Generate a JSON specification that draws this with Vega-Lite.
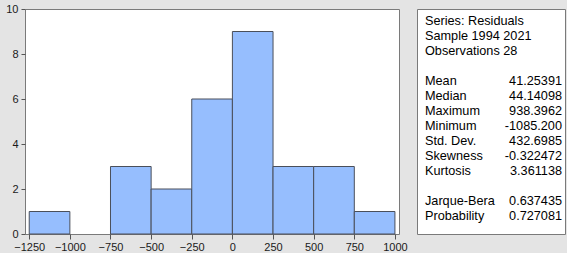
{
  "$schema": "https://vega.github.io/schema/vega-lite/v6.json",
  "background": "#e4e4e4",
  "padding": {"left": 5, "top": 2, "right": 2, "bottom": 0},
  "spacing": 18,
  "bounds": "flush",
  "config": {
    "font": "Liberation Sans",
    "view": {"fill": "white", "stroke": "#7a7a7a", "strokeWidth": 1},
    "axis": {"domain": false, "grid": false, "labelFont": "Liberation Sans", "labelFontSize": 11, "labelColor": "#1a1a1a", "tickColor": "#555555", "title": null}
  },
  "hconcat": [
    {
      "width": 374,
      "height": 225,
      "data": {"values": [
        {"bin_start": -1250, "bin_end": -1000, "count": 1},
        {"bin_start": -750, "bin_end": -500, "count": 3},
        {"bin_start": -500, "bin_end": -250, "count": 2},
        {"bin_start": -250, "bin_end": 0, "count": 6},
        {"bin_start": 0, "bin_end": 250, "count": 9},
        {"bin_start": 250, "bin_end": 500, "count": 3},
        {"bin_start": 500, "bin_end": 750, "count": 3},
        {"bin_start": 750, "bin_end": 1000, "count": 1}
      ]},
      "mark": {"type": "rect", "fill": "#96befe", "stroke": "#4a4f5a", "strokeWidth": 1},
      "encoding": {
        "x": {"field": "bin_start", "type": "quantitative",
              "scale": {"domain": [-1276, 1025], "nice": false, "zero": false},
              "axis": {"values": [-1250, -1000, -750, -500, -250, 0, 250, 500, 750, 1000], "format": "d", "tickSize": 5, "labelPadding": 2, "labelFlush": false}},
        "x2": {"field": "bin_end"},
        "y": {"field": "count", "type": "quantitative",
              "scale": {"domain": [0, 10], "nice": false},
              "axis": {"values": [0, 2, 4, 6, 8, 10], "tickSize": 4, "labelPadding": 3}},
        "y2": {"datum": 0}
      }
    },
    {
      "width": 148,
      "height": 225,
      "data": {"values": [
        {"line": 0, "label": "Series: Residuals", "value": ""},
        {"line": 1, "label": "Sample 1994 2021", "value": ""},
        {"line": 2, "label": "Observations 28", "value": ""},
        {"line": 4, "label": "Mean", "value": "41.25391"},
        {"line": 5, "label": "Median", "value": "44.14098"},
        {"line": 6, "label": "Maximum", "value": "938.3962"},
        {"line": 7, "label": "Minimum", "value": "-1085.200"},
        {"line": 8, "label": "Std. Dev.", "value": "432.6985"},
        {"line": 9, "label": "Skewness", "value": "-0.322472"},
        {"line": 10, "label": "Kurtosis", "value": "3.361138"},
        {"line": 12, "label": "Jarque-Bera", "value": "0.637435"},
        {"line": 13, "label": "Probability", "value": "0.727081"}
      ]},
      "encoding": {
        "y": {"field": "line", "type": "quantitative",
              "scale": {"domain": [-0.833, 14.167], "nice": false, "zero": false, "reverse": true},
              "axis": null}
      },
      "layer": [
        {
          "mark": {"type": "text", "align": "left", "baseline": "middle", "fontSize": 12.7, "color": "#000000", "dx": 8},
          "encoding": {"text": {"field": "label"}, "x": {"datum": 0, "type": "quantitative", "scale": {"domain": [0, 1], "nice": false, "zero": false}, "axis": null}}
        },
        {
          "mark": {"type": "text", "align": "right", "baseline": "middle", "fontSize": 12.7, "color": "#000000", "dx": -3},
          "encoding": {"text": {"field": "value"}, "x": {"datum": 1, "type": "quantitative", "scale": {"domain": [0, 1], "nice": false, "zero": false}, "axis": null}}
        }
      ]
    }
  ]
}
